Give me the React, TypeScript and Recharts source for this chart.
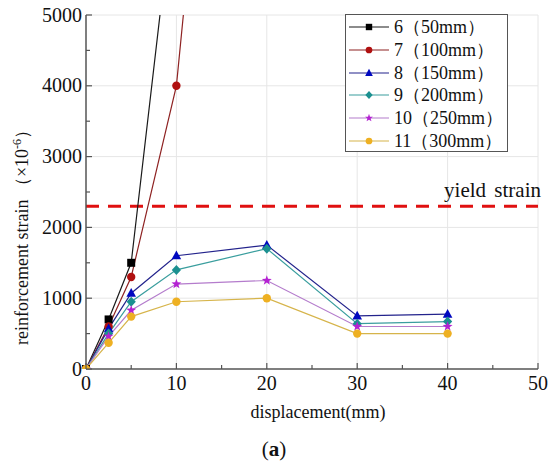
import React from 'react';
import { LineChart, Line, XAxis, YAxis, ReferenceLine, Legend, Label } from 'recharts';

// displacement steps (mm)
const displacement = [0, 2.5, 5, 10, 20, 30, 40];

// reinforcement strain (x10^-6) per specimen
const strain6 = [0, 700, 1500, 7000];
const strain7 = [0, 600, 1300, 4000, 17000];
const strain8 = [0, 570, 1070, 1600, 1750, 750, 775];
const strain9 = [0, 500, 950, 1400, 1700, 640, 670];
const strain10 = [0, 460, 830, 1200, 1250, 600, 600];
const strain11 = [0, 370, 740, 950, 1000, 500, 500];

const seriesNames = ['6（50mm）', '7（100mm）', '8（150mm）', '9（200mm）', '10（250mm）', '11（300mm）'];

const yieldStrain = 2300;

const xTicks = [0, 5, 10, 15, 20, 25, 30, 35, 40, 45, 50];
const xMajor = [0, 10, 20, 30, 40, 50];
const yTicks = [0, 500, 1000, 1500, 2000, 2500, 3000, 3500, 4000, 4500, 5000];
const yMajor = [0, 1000, 2000, 3000, 4000, 5000];

const FONT = "'Liberation Serif', 'Times New Roman', serif";

type Shape = 'square' | 'circle' | 'triangle' | 'diamond' | 'star';

const styles: { line: string; fill: string; shape: Shape }[] = [
  { line: '#1a1a1a', fill: '#000000', shape: 'square' },
  { line: '#8e2222', fill: '#b01010', shape: 'circle' },
  { line: '#23238c', fill: '#0008c0', shape: 'triangle' },
  { line: '#3a9e9e', fill: '#1b9090', shape: 'diamond' },
  { line: '#b47ccc', fill: '#b422d2', shape: 'star' },
  { line: '#d6b44a', fill: '#eeb022', shape: 'circle' },
];

const allValues = [strain6, strain7, strain8, strain9, strain10, strain11];

const series = allValues.map((vals, i) => ({
  name: seriesNames[i],
  data: vals.map((y, j) => ({ x: displacement[j], y })),
  ...styles[i],
}));

function Marker({ cx, cy, shape, fill, s = 1 }: { cx: number; cy: number; shape: Shape; fill: string; s?: number }) {
  if (cx == null || cy == null) return null;
  if (shape === 'square') return <rect x={cx - 4 * s} y={cy - 4 * s} width={8 * s} height={8 * s} fill={fill} />;
  if (shape === 'circle') return <circle cx={cx} cy={cy} r={4.2 * s} fill={fill} />;
  if (shape === 'triangle') {
    const p = `${cx},${cy - 5.2 * s} ${cx - 4.8 * s},${cy + 3.6 * s} ${cx + 4.8 * s},${cy + 3.6 * s}`;
    return <polygon points={p} fill={fill} />;
  }
  if (shape === 'diamond') {
    const p = `${cx},${cy - 5 * s} ${cx + 4.6 * s},${cy} ${cx},${cy + 5 * s} ${cx - 4.6 * s},${cy}`;
    return <polygon points={p} fill={fill} />;
  }
  const pts: string[] = [];
  for (let k = 0; k < 10; k++) {
    const r = (k % 2 === 0 ? 5.2 : 2.1) * s;
    const a = -Math.PI / 2 + (k * Math.PI) / 5;
    pts.push(`${cx + r * Math.cos(a)},${cy + r * Math.sin(a)}`);
  }
  return <polygon points={pts.join(' ')} fill={fill} />;
}

const YTick = (props: any) => {
  const { x, y, payload } = props;
  const major = yMajor.includes(payload.value);
  return (
    <g>
      <line x1={x} x2={x + (major ? 6 : 4)} y1={y} y2={y} stroke="#555" strokeWidth={1.2} />
      {major && (
        <text x={x - 4} y={y} dy={6.5} textAnchor="end" fontSize={20} fontFamily={FONT} fill="#111">
          {payload.value}
        </text>
      )}
    </g>
  );
};

const XTick = (props: any) => {
  const { x, y, payload } = props;
  const major = xMajor.includes(payload.value);
  return (
    <g>
      <line x1={x} x2={x} y1={y} y2={y - (major ? 6 : 4)} stroke="#555" strokeWidth={1.2} />
      {major && (
        <text x={x} y={y + 21} textAnchor="middle" fontSize={20} fontFamily={FONT} fill="#111">
          {payload.value}
        </text>
      )}
    </g>
  );
};

const LegendBox = () => (
  <div
    style={{
      border: '1px solid #555',
      background: '#fff',
      boxSizing: 'border-box',
      width: 163,
      height: 138,
      paddingTop: 1,
      fontFamily: FONT,
      fontSize: 18,
      color: '#111',
    }}
  >
    {series.map((s) => (
      <div key={s.name} style={{ display: 'flex', alignItems: 'center', height: 22.7 }}>
        <svg width={44} height={14} style={{ marginLeft: 2 }}>
          <line x1={1} x2={41} y1={7} y2={7} stroke={s.line} strokeWidth={1.2} />
          <Marker cx={21} cy={7} shape={s.shape} fill={s.fill} s={0.8} />
        </svg>
        <span style={{ marginLeft: 2, whiteSpace: 'nowrap' }}>{s.name}</span>
      </div>
    ))}
  </div>
);

export default function App() {
  return (
    <div style={{ position: 'absolute', left: 0, top: 0, width: 550, height: 465, background: '#fff' }}>
      <LineChart
        width={550}
        height={465}
        margin={{ top: 15, right: 12, bottom: 66, left: 0 }}
        style={{ fontFamily: FONT }}
      >
        <XAxis
          type="number"
          dataKey="x"
          domain={[0, 50]}
          ticks={xTicks}
          interval={0}
          height={30}
          tickSize={0}
          tickMargin={0}
          tickLine={false}
          tick={<XTick />}
          axisLine={{ stroke: '#555', strokeWidth: 1.5 }}
        >
          <Label
            content={() => (
              <g fontFamily={FONT} fill="#111">
                <text x={318} y={418} textAnchor="middle" fontSize={18}>displacement(mm)</text>
                <text x={274} y={456} textAnchor="middle" fontSize={21}>
                  (<tspan fontWeight="bold">a</tspan>)
                </text>
              </g>
            )}
          />
        </XAxis>
        <YAxis
          type="number"
          dataKey="y"
          domain={[0, 5000]}
          allowDataOverflow
          ticks={yTicks}
          interval={0}
          width={86}
          tickSize={0}
          tickMargin={0}
          tickLine={false}
          tick={<YTick />}
          axisLine={{ stroke: '#555', strokeWidth: 1.5 }}
        >
          <Label
            content={() => (
              <text
                transform="translate(28,233) rotate(-90)"
                textAnchor="middle"
                fontFamily={FONT}
                fontSize={18}
                fill="#111"
              >
                reinforcement strain （×10<tspan dy={-7} fontSize={12}>-6</tspan>
                <tspan dy={7}>）</tspan>
              </text>
            )}
          />
        </YAxis>
        {yMajor.slice(1).map((v) => (
          <ReferenceLine key={'gy' + v} y={v} stroke="#e6e6e6" strokeWidth={1} />
        ))}
        {xMajor.slice(1).map((v) => (
          <ReferenceLine key={'gx' + v} x={v} stroke="#e6e6e6" strokeWidth={1} />
        ))}
        <ReferenceLine
          y={yieldStrain}
          stroke="#e01010"
          strokeWidth={3}
          strokeDasharray="13 9"
          label={{
            content: (p: any) => (
              <text
                x={p.viewBox.x + p.viewBox.width + 3}
                y={p.viewBox.y - 9}
                textAnchor="end"
                fontFamily={FONT}
                fontSize={21}
                wordSpacing={3}
                fill="#111"
              >
                yield strain
              </text>
            ),
          }}
        />
        {series.map((s) => (
          <Line
            key={s.name}
            data={s.data}
            dataKey="y"
            name={s.name}
            type="linear"
            stroke={s.line}
            strokeWidth={1.2}
            isAnimationActive={false}
            dot={(p: any) => (
              <Marker key={s.name + p.index} cx={p.cx} cy={p.cy} shape={s.shape} fill={s.fill} />
            )}
            activeDot={false}
          />
        ))}
        <Legend
          layout="vertical"
          align="center"
          verticalAlign="middle"
          wrapperStyle={{ left: 345, top: 14, width: 163, height: 138 }}
          content={() => <LegendBox />}
        />
      </LineChart>
    </div>
  );
}
